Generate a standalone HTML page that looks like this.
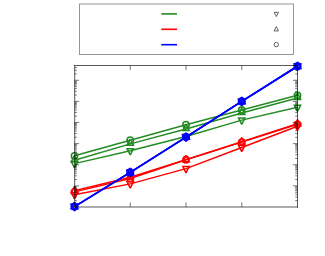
<!DOCTYPE html>
<html><head><meta charset="utf-8"><title>chart</title>
<style>html,body{margin:0;padding:0;background:#fff;font-family:"Liberation Sans",sans-serif;}body{width:325px;height:256px;overflow:hidden}</style></head>
<body>
<svg width="325" height="256" viewBox="0 0 325 256" style="display:block">
<rect width="325" height="256" fill="#fff"/>
<rect x="79.5" y="4" width="214" height="50.5" fill="#fff" stroke="#000" stroke-width="0.9" stroke-opacity="0.46"/>
<line x1="161.3" x2="177" y1="13.9" y2="13.9" stroke="#228B22" stroke-width="1.6"/>
<line x1="161.3" x2="177" y1="29.3" y2="29.3" stroke="#ff0000" stroke-width="1.6"/>
<line x1="161.3" x2="177" y1="44.7" y2="44.7" stroke="#0000ff" stroke-width="1.6"/>
<polygon points="276.30,16.57 274.15,12.27 278.45,12.27" fill="none" stroke="#222" stroke-width="0.7" stroke-linejoin="miter" stroke-miterlimit="2"/>
<polygon points="276.30,26.63 274.15,30.93 278.45,30.93" fill="none" stroke="#222" stroke-width="0.7" stroke-linejoin="miter" stroke-miterlimit="2"/>
<circle cx="276.30" cy="44.60" r="2.20" fill="none" stroke="#222" stroke-width="0.7"/>
<polyline points="74.50,163.60 130.25,150.80 186.00,136.50 241.75,120.10 297.50,107.30" fill="none" stroke="#228B22" stroke-width="1.45" stroke-linejoin="round"/>
<polygon points="74.50,167.80 71.35,161.50 77.65,161.50" fill="none" stroke="#228B22" stroke-width="1.55" stroke-linejoin="miter" stroke-miterlimit="2"/>
<polygon points="130.25,155.00 127.10,148.70 133.40,148.70" fill="none" stroke="#228B22" stroke-width="1.55" stroke-linejoin="miter" stroke-miterlimit="2"/>
<polygon points="186.00,140.70 182.85,134.40 189.15,134.40" fill="none" stroke="#228B22" stroke-width="1.55" stroke-linejoin="miter" stroke-miterlimit="2"/>
<polygon points="241.75,124.30 238.60,118.00 244.90,118.00" fill="none" stroke="#228B22" stroke-width="1.55" stroke-linejoin="miter" stroke-miterlimit="2"/>
<polygon points="297.50,111.50 294.35,105.20 300.65,105.20" fill="none" stroke="#228B22" stroke-width="1.55" stroke-linejoin="miter" stroke-miterlimit="2"/>
<polyline points="74.50,160.20 130.25,143.90 186.00,129.00 241.75,113.00 297.50,98.00" fill="none" stroke="#228B22" stroke-width="1.45" stroke-linejoin="round"/>
<polygon points="74.50,155.30 71.35,161.60 77.65,161.60" fill="none" stroke="#228B22" stroke-width="1.55" stroke-linejoin="miter" stroke-miterlimit="2"/>
<polygon points="130.25,139.00 127.10,145.30 133.40,145.30" fill="none" stroke="#228B22" stroke-width="1.55" stroke-linejoin="miter" stroke-miterlimit="2"/>
<polygon points="186.00,124.10 182.85,130.40 189.15,130.40" fill="none" stroke="#228B22" stroke-width="1.55" stroke-linejoin="miter" stroke-miterlimit="2"/>
<polygon points="241.75,108.10 238.60,114.40 244.90,114.40" fill="none" stroke="#228B22" stroke-width="1.55" stroke-linejoin="miter" stroke-miterlimit="2"/>
<polygon points="297.50,93.10 294.35,99.40 300.65,99.40" fill="none" stroke="#228B22" stroke-width="1.55" stroke-linejoin="miter" stroke-miterlimit="2"/>
<polyline points="74.50,155.80 130.25,140.20 186.00,124.70 241.75,110.00 297.50,95.30" fill="none" stroke="#228B22" stroke-width="1.45" stroke-linejoin="round"/>
<circle cx="74.50" cy="155.80" r="3.15" fill="none" stroke="#228B22" stroke-width="1.55"/>
<circle cx="130.25" cy="140.20" r="3.15" fill="none" stroke="#228B22" stroke-width="1.55"/>
<circle cx="186.00" cy="124.70" r="3.15" fill="none" stroke="#228B22" stroke-width="1.55"/>
<circle cx="241.75" cy="110.00" r="3.15" fill="none" stroke="#228B22" stroke-width="1.55"/>
<circle cx="297.50" cy="95.30" r="3.15" fill="none" stroke="#228B22" stroke-width="1.55"/>
<polyline points="74.50,194.70 130.25,183.90 186.00,168.60 241.75,147.50 297.50,126.30" fill="none" stroke="#ff0000" stroke-width="1.45" stroke-linejoin="round"/>
<polygon points="74.50,198.90 71.35,192.60 77.65,192.60" fill="none" stroke="#ff0000" stroke-width="1.55" stroke-linejoin="miter" stroke-miterlimit="2"/>
<polygon points="130.25,188.10 127.10,181.80 133.40,181.80" fill="none" stroke="#ff0000" stroke-width="1.55" stroke-linejoin="miter" stroke-miterlimit="2"/>
<polygon points="186.00,172.80 182.85,166.50 189.15,166.50" fill="none" stroke="#ff0000" stroke-width="1.55" stroke-linejoin="miter" stroke-miterlimit="2"/>
<polygon points="241.75,151.70 238.60,145.40 244.90,145.40" fill="none" stroke="#ff0000" stroke-width="1.55" stroke-linejoin="miter" stroke-miterlimit="2"/>
<polygon points="297.50,130.50 294.35,124.20 300.65,124.20" fill="none" stroke="#ff0000" stroke-width="1.55" stroke-linejoin="miter" stroke-miterlimit="2"/>
<polyline points="74.50,190.60 130.25,177.30 186.00,159.60 241.75,141.80 297.50,123.70" fill="none" stroke="#ff0000" stroke-width="1.45" stroke-linejoin="round"/>
<polygon points="74.50,186.40 71.35,192.70 77.65,192.70" fill="none" stroke="#ff0000" stroke-width="1.55" stroke-linejoin="miter" stroke-miterlimit="2"/>
<polygon points="130.25,173.10 127.10,179.40 133.40,179.40" fill="none" stroke="#ff0000" stroke-width="1.55" stroke-linejoin="miter" stroke-miterlimit="2"/>
<polygon points="186.00,155.40 182.85,161.70 189.15,161.70" fill="none" stroke="#ff0000" stroke-width="1.55" stroke-linejoin="miter" stroke-miterlimit="2"/>
<polygon points="241.75,137.60 238.60,143.90 244.90,143.90" fill="none" stroke="#ff0000" stroke-width="1.55" stroke-linejoin="miter" stroke-miterlimit="2"/>
<polygon points="297.50,119.50 294.35,125.80 300.65,125.80" fill="none" stroke="#ff0000" stroke-width="1.55" stroke-linejoin="miter" stroke-miterlimit="2"/>
<polyline points="74.50,191.90 130.25,178.50 186.00,159.70 241.75,142.10 297.50,124.30" fill="none" stroke="#ff0000" stroke-width="1.45" stroke-linejoin="round"/>
<circle cx="74.50" cy="191.90" r="3.15" fill="none" stroke="#ff0000" stroke-width="1.55"/>
<circle cx="130.25" cy="178.50" r="3.15" fill="none" stroke="#ff0000" stroke-width="1.55"/>
<circle cx="186.00" cy="159.70" r="3.15" fill="none" stroke="#ff0000" stroke-width="1.55"/>
<circle cx="241.75" cy="142.10" r="3.15" fill="none" stroke="#ff0000" stroke-width="1.55"/>
<circle cx="297.50" cy="124.30" r="3.15" fill="none" stroke="#ff0000" stroke-width="1.55"/>
<polyline points="74.50,206.60 130.25,172.40 186.00,137.10 241.75,101.40 297.50,66.20" fill="none" stroke="#0000ff" stroke-width="1.7" stroke-linejoin="round"/>
<polygon points="74.50,210.73 71.40,204.53 77.60,204.53" fill="none" stroke="#0000ff" stroke-width="1.9" stroke-linejoin="miter" stroke-miterlimit="2"/>
<polygon points="130.25,176.53 127.15,170.33 133.35,170.33" fill="none" stroke="#0000ff" stroke-width="1.9" stroke-linejoin="miter" stroke-miterlimit="2"/>
<polygon points="186.00,141.23 182.90,135.03 189.10,135.03" fill="none" stroke="#0000ff" stroke-width="1.9" stroke-linejoin="miter" stroke-miterlimit="2"/>
<polygon points="241.75,105.53 238.65,99.33 244.85,99.33" fill="none" stroke="#0000ff" stroke-width="1.9" stroke-linejoin="miter" stroke-miterlimit="2"/>
<polygon points="297.50,70.33 294.40,64.13 300.60,64.13" fill="none" stroke="#0000ff" stroke-width="1.9" stroke-linejoin="miter" stroke-miterlimit="2"/>
<polyline points="74.50,206.60 130.25,172.40 186.00,137.10 241.75,101.40 297.50,66.20" fill="none" stroke="#0000ff" stroke-width="1.7" stroke-linejoin="round"/>
<polygon points="74.50,202.47 71.40,208.67 77.60,208.67" fill="none" stroke="#0000ff" stroke-width="1.9" stroke-linejoin="miter" stroke-miterlimit="2"/>
<polygon points="130.25,168.27 127.15,174.47 133.35,174.47" fill="none" stroke="#0000ff" stroke-width="1.9" stroke-linejoin="miter" stroke-miterlimit="2"/>
<polygon points="186.00,132.97 182.90,139.17 189.10,139.17" fill="none" stroke="#0000ff" stroke-width="1.9" stroke-linejoin="miter" stroke-miterlimit="2"/>
<polygon points="241.75,97.27 238.65,103.47 244.85,103.47" fill="none" stroke="#0000ff" stroke-width="1.9" stroke-linejoin="miter" stroke-miterlimit="2"/>
<polygon points="297.50,62.07 294.40,68.27 300.60,68.27" fill="none" stroke="#0000ff" stroke-width="1.9" stroke-linejoin="miter" stroke-miterlimit="2"/>
<polyline points="74.50,206.60 130.25,172.40 186.00,137.10 241.75,101.40 297.50,66.20" fill="none" stroke="#0000ff" stroke-width="1.7" stroke-linejoin="round"/>
<circle cx="74.50" cy="206.60" r="3.10" fill="none" stroke="#0000ff" stroke-width="1.9"/>
<circle cx="130.25" cy="172.40" r="3.10" fill="none" stroke="#0000ff" stroke-width="1.9"/>
<circle cx="186.00" cy="137.10" r="3.10" fill="none" stroke="#0000ff" stroke-width="1.9"/>
<circle cx="241.75" cy="101.40" r="3.10" fill="none" stroke="#0000ff" stroke-width="1.9"/>
<circle cx="297.50" cy="66.20" r="3.10" fill="none" stroke="#0000ff" stroke-width="1.9"/>
<path d="M74.5 200.64h2.3 M297.5 200.64h-2.3 M74.5 196.92h2.3 M297.5 196.92h-2.3 M74.5 194.28h2.3 M297.5 194.28h-2.3 M74.5 192.24h2.3 M297.5 192.24h-2.3 M74.5 190.57h2.3 M297.5 190.57h-2.3 M74.5 189.15h2.3 M297.5 189.15h-2.3 M74.5 187.93h2.3 M297.5 187.93h-2.3 M74.5 186.85h2.3 M297.5 186.85h-2.3 M74.5 185.88h4.6 M297.5 185.88h-4.6 M74.5 179.52h2.3 M297.5 179.52h-2.3 M74.5 175.80h2.3 M297.5 175.80h-2.3 M74.5 173.16h2.3 M297.5 173.16h-2.3 M74.5 171.12h2.3 M297.5 171.12h-2.3 M74.5 169.45h2.3 M297.5 169.45h-2.3 M74.5 168.03h2.3 M297.5 168.03h-2.3 M74.5 166.81h2.3 M297.5 166.81h-2.3 M74.5 165.73h2.3 M297.5 165.73h-2.3 M74.5 164.76h4.6 M297.5 164.76h-4.6 M74.5 158.40h2.3 M297.5 158.40h-2.3 M74.5 154.68h2.3 M297.5 154.68h-2.3 M74.5 152.04h2.3 M297.5 152.04h-2.3 M74.5 150.00h2.3 M297.5 150.00h-2.3 M74.5 148.33h2.3 M297.5 148.33h-2.3 M74.5 146.91h2.3 M297.5 146.91h-2.3 M74.5 145.69h2.3 M297.5 145.69h-2.3 M74.5 144.61h2.3 M297.5 144.61h-2.3 M74.5 143.64h4.6 M297.5 143.64h-4.6 M74.5 137.28h2.3 M297.5 137.28h-2.3 M74.5 133.56h2.3 M297.5 133.56h-2.3 M74.5 130.92h2.3 M297.5 130.92h-2.3 M74.5 128.88h2.3 M297.5 128.88h-2.3 M74.5 127.21h2.3 M297.5 127.21h-2.3 M74.5 125.79h2.3 M297.5 125.79h-2.3 M74.5 124.57h2.3 M297.5 124.57h-2.3 M74.5 123.49h2.3 M297.5 123.49h-2.3 M74.5 122.52h4.6 M297.5 122.52h-4.6 M74.5 116.16h2.3 M297.5 116.16h-2.3 M74.5 112.44h2.3 M297.5 112.44h-2.3 M74.5 109.80h2.3 M297.5 109.80h-2.3 M74.5 107.76h2.3 M297.5 107.76h-2.3 M74.5 106.09h2.3 M297.5 106.09h-2.3 M74.5 104.67h2.3 M297.5 104.67h-2.3 M74.5 103.45h2.3 M297.5 103.45h-2.3 M74.5 102.37h2.3 M297.5 102.37h-2.3 M74.5 101.40h4.6 M297.5 101.40h-4.6 M74.5 95.04h2.3 M297.5 95.04h-2.3 M74.5 91.32h2.3 M297.5 91.32h-2.3 M74.5 88.68h2.3 M297.5 88.68h-2.3 M74.5 86.64h2.3 M297.5 86.64h-2.3 M74.5 84.97h2.3 M297.5 84.97h-2.3 M74.5 83.55h2.3 M297.5 83.55h-2.3 M74.5 82.33h2.3 M297.5 82.33h-2.3 M74.5 81.25h2.3 M297.5 81.25h-2.3 M74.5 80.28h4.6 M297.5 80.28h-4.6 M74.5 73.92h2.3 M297.5 73.92h-2.3 M74.5 70.20h2.3 M297.5 70.20h-2.3 M74.5 67.56h2.3 M297.5 67.56h-2.3 M130.25 65.5v4.6 M130.25 207.0v-4.6 M186.00 65.5v4.6 M186.00 207.0v-4.6 M241.75 65.5v4.6 M241.75 207.0v-4.6" stroke="#000" stroke-width="0.9" stroke-opacity="0.6" fill="none"/>
<path d="M74.7 65.0V207.5 M297.5 65.0V207.5 M74.2 65.5H298.0 M74.2 207.0H298.0" fill="none" stroke="#000" stroke-width="1" stroke-opacity="0.65"/>
</svg>
</body></html>
